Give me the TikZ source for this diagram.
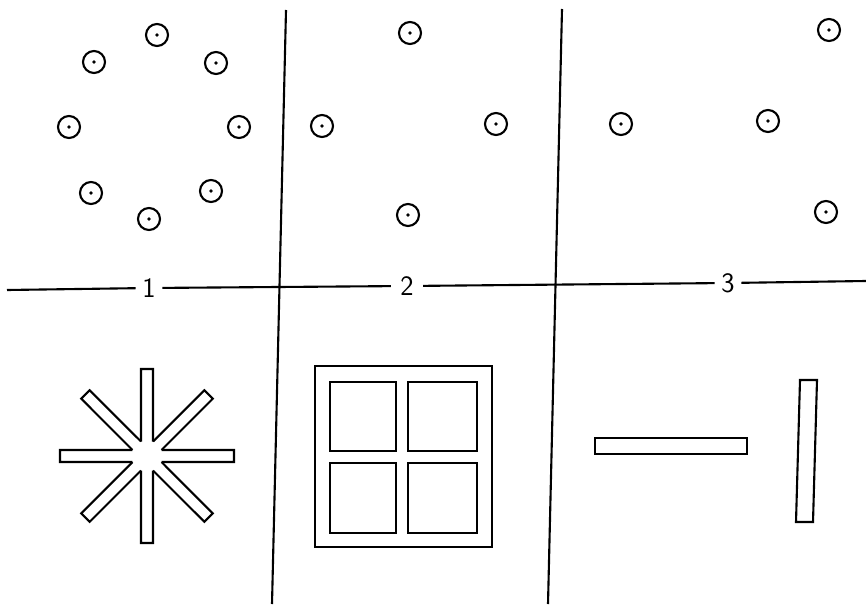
\documentclass[tikz,border=0pt]{standalone}

\begin{document}
\begin{tikzpicture}[x=0.025cm,y=-0.025cm,line width=1.5pt]
                \useasboundingbox (0,0) rectangle (866,604);
                % panel dividers
                \draw (286,10) -- (272,604);
                \draw (562,9) -- (548,604);
                % row divider with panel numbers
                \coordinate (h0) at (7,290);
                \coordinate (h1) at (866,281);
                \node[inner sep=4pt,font=\fontsize{20}{24}\sffamily] (n1) at (149,288) {1};
                \node[inner sep=6pt,font=\fontsize{20}{24}\sffamily] (n2) at (407,286) {2};
                \node[inner sep=4pt,font=\fontsize{20}{24}\sffamily] (n3) at (728,283) {3};
                \draw (h0) -- (n1) -- (n2) -- (n3) -- (h1);
                % circles, top row
                \foreach \x/\y in {157/35,94/62,216/63,69/127,239/127,91/193,211/191,149/219,
                                   410/33,322/126,496/124,408/215,
                                   829/30,621/124,768/121,826/212}{
                    \draw (\x,\y) circle[radius=11];
                    \fill (\x,\y) circle[radius=1.8];
                }
                % star of eight arms
                \begin{scope}[shift={(147,456)}]
                    \foreach \a in {0,45,...,315}{
                        \draw[rotate=\a] (-22.5:15.7) -- (87,-6) -- (87,6) -- (22.5:15.7);
                    }
                \end{scope}
                % window
                \draw (315,366) rectangle (492,547);
                \foreach \a/\b in {330/396,408/477}{
                    \foreach \c/\d in {382/451,463/533}{
                        \draw (\a,\c) rectangle (\b,\d);
                    }
                }
                % two bars
                \draw (595,438) rectangle (747,454);
                \draw (800,380) -- (817,380) -- (813,522) -- (796,522) -- cycle;
            \end{tikzpicture}
\end{document}
